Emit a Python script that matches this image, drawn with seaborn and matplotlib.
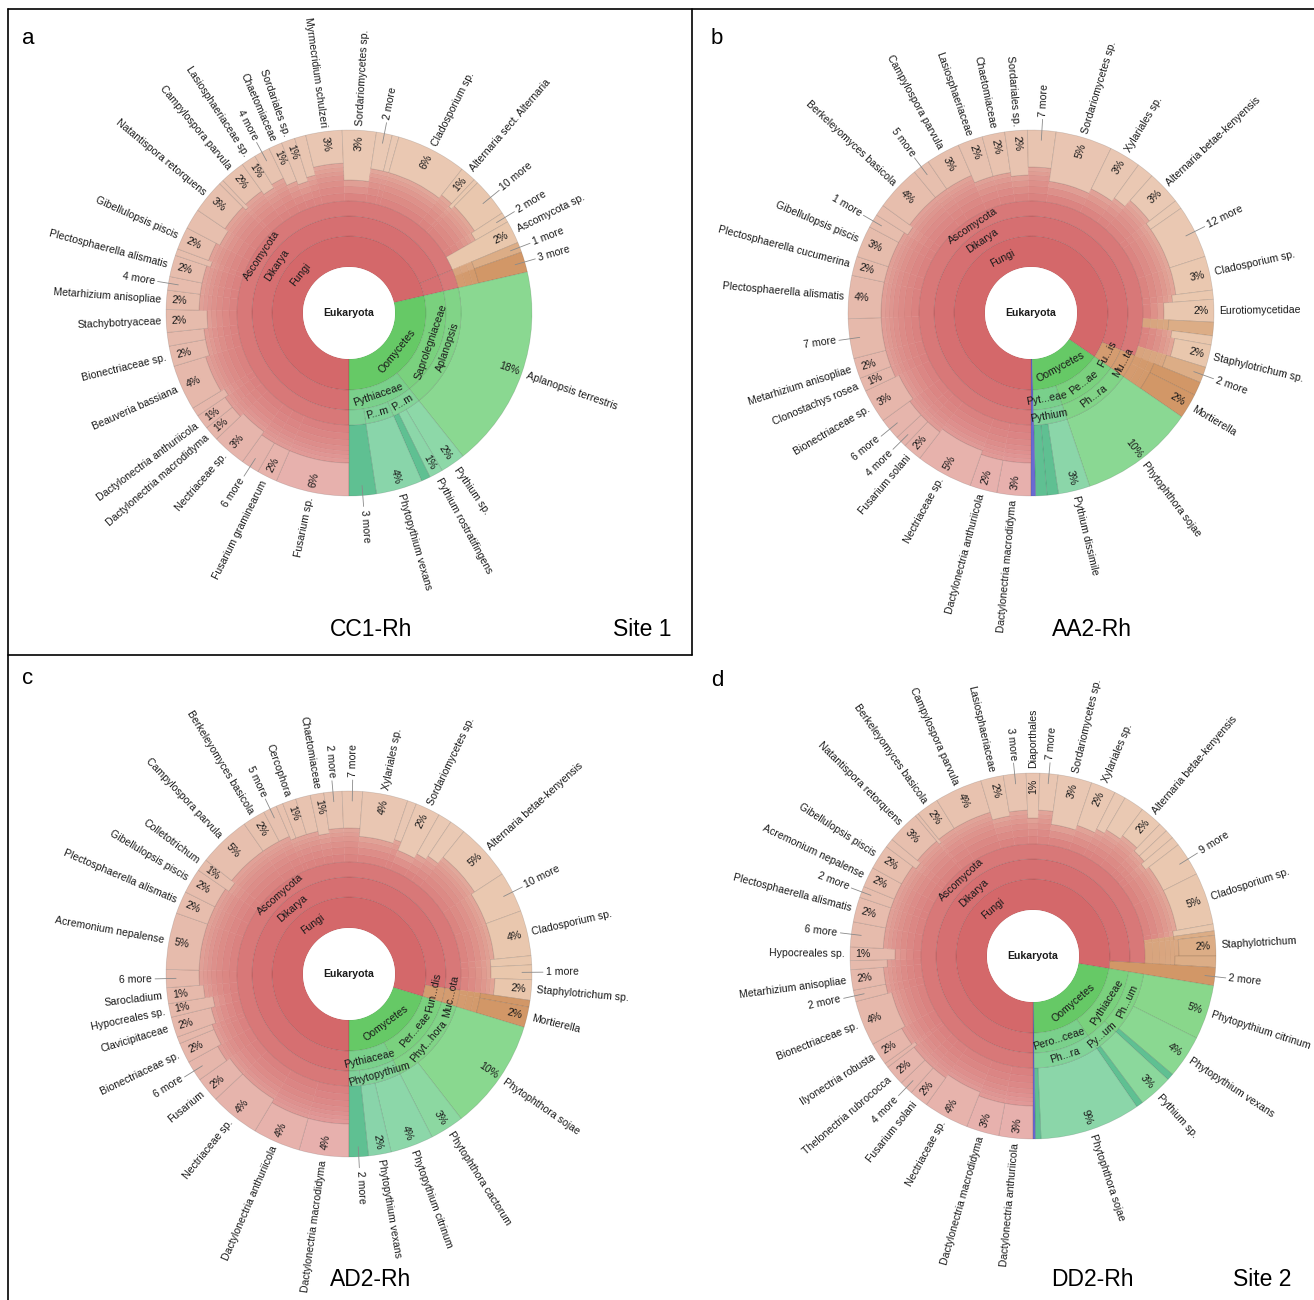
import numpy as np
import matplotlib
import matplotlib.pyplot as plt
import seaborn as sns
from matplotlib.patches import Wedge, Arc, Circle

matplotlib.use("agg")

# ---------------- panel a : CC1-Rh (Site 1)
a_names = ["Fusarium sp.", "Fusarium graminearum", "6 more", "Nectriaceae sp.",
           "Dactylonectria macrodidyma", "Dactylonectria anthuriicola", "", "Beauveria bassiana",
           "Bionectriaceae sp.", "", "Stachybotryaceae", "Metarhizium anisopliae", "4 more",
           "Plectosphaerella alismatis", "", "Gibellulopsis piscis", "", "Natantispora retorquens",
           "", "Campylospora parvula", "Lasiosphaeriaceae sp.", "4 more", "Chaetomiaceae",
           "Sordariales sp.", "", "Myrmecridium schulzeri", "Sordariomycetes sp.", "2 more", "",
           "Cladosporium sp.", "Alternaria sect. Alternaria", "", "10 more", "2 more",
           "Ascomycota sp.", "1 more", "3 more",
           "Aplanopsis terrestris", "Pythium sp.", "Pythium rostratifingens", "",
           "Phytopythium vexans", "3 more"]
a_sizes = [6.5, 1.8, 1.6, 3.0, 1.3, 1.3, 0.8, 4.0, 1.8, 1.2,
           2.0, 1.7, 1.2, 1.9, 0.6, 2.0, 1.8, 3.0, 0.4, 2.2,
           1.3, 1.4, 1.2, 1.2, 1.0, 3.2, 3.0, 1.4, 0.6, 6.2,
           1.4, 0.4, 3.4, 0.9, 2.0, 0.9, 1.8,
           17.9, 2.2, 1.2, 0.8, 4.1, 2.4]
a_pcts = ["6%", "2%", "", "3%", "1%", "1%", "", "4%", "2%", "",
          "2%", "2%", "", "2%", "", "2%", "", "3%", "", "2%",
          "1%", "", "1%", "1%", "", "3%", "3%", "", "", "6%",
          "1%", "", "", "", "2%", "", "",
          "18%", "2%", "1%", "", "4%", ""]
a_depths = [10, 10, 10, 9, 10, 10, 9, 10, 9, 9,
            8, 10, 10, 10, 9, 10, 9, 10, 9, 10,
            9, 10, 8, 7, 8, 10, 6, 9, 9, 9,
            10, 9, 10, 9, 3, 6, 6,
            3, 3, 3, 3, 3, 3]
a_groups = list("A" * 35) + ["C", "B", "O", "O", "O", "T", "O", "T"]
a_node_labels = ["Fungi", "Oomycetes", "Dikarya", "", "Saprolegniaceae", "Pythiaceae",
                 "Ascomycota", "", "Aplanopsis", "P...m", "P...m", ""]
a_node_levels = [1, 1, 2, 2, 2, 2, 3, 3, 3, 3, 3, 3]
a_node_first = [0, 37, 0, 35, 37, 38, 0, 35, 37, 38, 41, 42]
a_node_last = [36, 42, 34, 36, 37, 42, 34, 36, 37, 40, 41, 42]

# ---------------- panel b : AA2-Rh
b_names = ["Dactylonectria macrodidyma", "Dactylonectria anthuriicola", "Nectriaceae sp.",
           "Fusarium solani", "4 more", "6 more", "Bionectriaceae sp.", "Clonostachys rosea",
           "Metarhizium anisopliae", "7 more",
           "Plectosphaerella alismatis", "Plectosphaerella cucumerina", "Gibellulopsis piscis",
           "1 more", "", "Berkeleyomyces basicola", "5 more", "Campylospora parvula",
           "Lasiosphaeriaceae", "Chaetomiaceae",
           "Sordariales sp.", "7 more", "Sordariomycetes sp.", "Xylariales sp.", "",
           "Alternaria betae-kenyensis", "", "12 more", "Cladosporium sp.", "",
           "Eurotiomycetidae", "", "", "Staphylotrichum sp.", "2 more", "", "Mortierella",
           "Phytophthora sojae", "Pythium dissimile", "", "", ""]
b_sizes = [3.0, 2.4, 5.0, 1.7, 1.0, 1.9, 3.0, 1.2, 1.8, 3.5,
           3.8, 1.7, 2.8, 1.2, 1.0, 4.0, 1.5, 3.0, 2.2, 2.0,
           2.0, 2.5, 5.0, 2.8, 1.5, 3.0, 0.8, 4.7, 3.0, 0.8,
           2.0, 1.2, 0.8, 2.0, 1.4, 1.2, 2.2,
           10.2, 2.8, 1.0, 1.0, 0.4]
b_pcts = ["3%", "2%", "5%", "2%", "", "", "3%", "1%", "2%", "",
          "4%", "2%", "3%", "", "", "4%", "", "3%", "2%", "2%",
          "2%", "", "5%", "3%", "", "3%", "", "", "3%", "",
          "2%", "", "", "2%", "", "", "2%",
          "10%", "3%", "", "", ""]
b_depths = [10, 10, 9, 10, 10, 10, 9, 10, 10, 10,
            10, 10, 10, 10, 9, 10, 10, 10, 8, 8,
            7, 9, 6, 7, 8, 10, 9, 9, 9, 8,
            6, 7, 8, 9, 8, 6, 6,
            3, 3, 3, 3, 0]
b_groups = list("A" * 31) + ["C", "A", "A", "C", "B", "B", "O", "O", "T", "T", "V"]
b_node_labels = ["Fungi", "Oomycetes", "Dikarya", "Fu...is", "Pe...ae", "Pyt...eae",
                 "Ascomycota", "Mu...ta", "Ph...ra", "Pythium"]
b_node_levels = [1, 1, 2, 2, 2, 2, 3, 3, 3, 3]
b_node_first = [0, 37, 0, 35, 37, 38, 0, 35, 37, 38]
b_node_last = [36, 40, 34, 36, 37, 40, 34, 36, 37, 40]

# ---------------- panel c : AD2-Rh
c_names = ["Dactylonectria macrodidyma", "Dactylonectria anthuriicola", "Nectriaceae sp.",
           "Fusarium", "6 more", "Bionectriaceae sp.", "", "Clavicipitaceae", "Hypocreales sp.",
           "Sarocladium",
           "6 more", "Acremonium nepalense", "Plectosphaerella alismatis", "Gibellulopsis piscis",
           "Colletotrichum", "Campylospora parvula", "Berkeleyomyces basicola", "5 more", "",
           "Cercophora",
           "", "Chaetomiaceae", "2 more", "7 more", "Xylariales sp.", "", "Sordariomycetes sp.",
           "", "", "Alternaria betae-kenyensis",
           "10 more", "Cladosporium sp.", "", "1 more", "Staphylotrichum sp.", "", "Mortierella",
           "Phytophthora sojae", "Phytophthora cactorum", "Phytopythium citrinum",
           "Phytopythium vexans", "2 more"]
c_sizes = [4.4, 4.2, 4.4, 2.2, 1.8, 1.8, 0.6, 1.8, 1.2, 1.4,
           1.6, 5.0, 2.0, 2.2, 1.1, 4.6, 2.0, 1.2, 0.6, 1.2,
           1.3, 1.2, 1.6, 1.8, 4.0, 0.8, 2.2, 1.2, 1.4, 5.0,
           3.6, 4.0, 0.8, 1.3, 1.8, 0.6, 1.8,
           9.8, 3.0, 3.8, 2.0, 1.7]
c_pcts = ["4%", "4%", "4%", "2%", "", "2%", "", "2%", "1%", "1%",
          "", "5%", "2%", "2%", "1%", "5%", "2%", "", "", "1%",
          "", "1%", "", "", "4%", "", "2%", "", "", "5%",
          "", "4%", "", "", "2%", "", "2%",
          "10%", "3%", "4%", "2%", ""]
c_depths = [10, 10, 9, 9, 10, 9, 9, 8, 7, 9,
            10, 10, 10, 10, 9, 10, 10, 10, 9, 9,
            9, 8, 9, 9, 7, 8, 6, 7, 8, 10,
            9, 9, 8, 8, 9, 6, 6,
            3, 3, 3, 3, 3]
c_groups = list("A" * 35) + ["B", "B", "O", "O", "O", "O", "T"]
c_node_labels = ["Fungi", "Oomycetes", "Dikarya", "Fun...dis", "Per...eae", "Pythiaceae",
                 "Ascomycota", "Muc...ota", "Phyt...hora", "Phytopythium", ""]
c_node_levels = [1, 1, 2, 2, 2, 2, 3, 3, 3, 3, 3]
c_node_first = [0, 37, 0, 35, 37, 39, 0, 35, 37, 39, 41]
c_node_last = [36, 41, 34, 36, 38, 41, 34, 36, 38, 40, 41]

# ---------------- panel d : DD2-Rh (Site 2)
d_names = ["Dactylonectria anthuriicola", "Dactylonectria macrodidyma", "Nectriaceae sp.",
           "Fusarium solani", "4 more", "Thelonectria rubrococca", "", "Ilyonectria robusta",
           "Bionectriaceae sp.", "2 more",
           "Metarhizium anisopliae", "", "Hypocreales sp.", "6 more", "Plectosphaerella alismatis",
           "2 more", "Acremonium nepalense", "Gibellulopsis piscis", "", "Natantispora retorquens",
           "", "Berkeleyomyces basicola", "Campylospora parvula", "Lasiosphaeriaceae", "3 more",
           "Diaporthales", "7 more", "Sordariomycetes sp.", "Xylariales sp.", "",
           "", "Alternaria betae-kenyensis", "", "", "", "9 more", "Cladosporium sp.", "", "",
           "Staphylotrichum",
           "", "2 more",
           "Phytopythium citrinum", "Phytopythium vexans", "", "Pythium sp.", "",
           "Phytophthora sojae", "", ""]
d_sizes = [3.0, 2.9, 4.0, 1.7, 1.2, 1.8, 0.4, 2.0, 4.0, 1.0,
           1.8, 0.8, 1.2, 2.2, 2.2, 1.0, 1.8, 2.2, 0.8, 2.9,
           0.3, 2.0, 4.2, 2.0, 2.0, 1.2, 1.6, 3.0, 2.2, 1.0,
           1.8, 2.0, 0.8, 0.8, 0.8, 3.0, 4.6, 0.6, 0.4, 1.8,
           1.0, 1.6,
           4.8, 3.8, 0.6, 3.0, 0.6, 8.9, 0.5, 0.2]
d_pcts = ["3%", "3%", "4%", "2%", "", "2%", "", "2%", "4%", "",
          "2%", "", "1%", "", "2%", "", "2%", "2%", "", "3%",
          "", "2%", "4%", "2%", "", "1%", "", "3%", "2%", "",
          "", "2%", "", "", "", "", "5%", "", "", "2%",
          "", "",
          "5%", "4%", "", "3%", "", "9%", "", ""]
d_depths = [10, 10, 9, 10, 10, 10, 9, 10, 9, 10,
            10, 9, 7, 10, 10, 10, 10, 10, 9, 10,
            9, 10, 10, 8, 9, 7, 9, 6, 7, 8,
            9, 10, 9, 9, 8, 9, 9, 8, 8, 9,
            8, 1,
            3, 3, 3, 3, 3, 3, 3, 0]
d_groups = list("A" * 38) + ["C", "C", "C", "B", "O", "O", "T", "O", "T", "O", "T", "V"]
d_node_labels = ["Fungi", "Oomycetes", "Dikarya", "Pythiaceae", "Pero...ceae",
                 "Ascomycota", "Ph...um", "Py...um", "Ph...ra"]
d_node_levels = [1, 1, 2, 2, 2, 3, 3, 3, 3]
d_node_first = [0, 42, 0, 42, 47, 0, 42, 45, 47]
d_node_last = [41, 48, 40, 46, 48, 40, 44, 46, 48]

# ---------------- styling
sns.set_theme(style="white")
plt.rcParams["font.family"] = ["Liberation Sans", "DejaVu Sans"]

H = 1300
R = 183
radii = [46, 77, 97, 112, 120, 127, 133, 138, 142, 146, 150]
FS = 7.6
TXT = "#1a1a1a"
EDGE = (0, 0, 0, 0.14)

fungi_cmap = sns.blend_palette(["#e7afad", "#e6b8ab", "#e7c0ae", "#eac9b4", "#e9c6aa"], as_cmap=True)
oomy_cmap = sns.blend_palette(["#88d788", "#8ad892", "#8dd8a8", "#86d2ab"], as_cmap=True)
flat = {"C": "#dcad86", "B": "#d29767", "T": "#5fc092", "V": "#6a6ad2"}
ring_red = ["#d4686a", "#d66f71", "#d87878"]
ring_brown = "#d49c70"
green_l1 = "#66c966"


def mix(c1, c2, t):
    a = np.array(matplotlib.colors.to_rgb(c1))
    b = np.array(matplotlib.colors.to_rgb(c2))
    return tuple(a + (b - a) * t)


def ang(f):
    return -90.0 - 360.0 * f


def radial(ax, cx, cy, r, th, s, mode, **kw):
    a = np.deg2rad(th)
    x, y = cx + r * np.cos(a), cy + r * np.sin(a)
    rot = th % 360
    right = rot <= 90 or rot >= 270
    if not right:
        rot -= 180
    if mode == "out":
        ha = "left" if right else "right"
    else:
        ha = "center"
    ax.text(x, y, s, rotation=rot, rotation_mode="anchor", ha=ha, va="center",
            fontsize=FS, color=TXT, **kw)


def tangential(ax, cx, cy, r, th, s):
    a = np.deg2rad(th)
    rot = (th - 90) % 360
    if 90 < rot < 270:
        rot -= 180
    ax.text(cx + r * np.cos(a), cy + r * np.sin(a), s, rotation=rot, rotation_mode="anchor",
            ha="center", va="center", fontsize=FS, color=TXT)


def draw_panel(ax, cx, cy, names, sizes, pcts, depths, groups,
               node_labels, node_levels, node_first, node_last):
    cy = H - cy
    sizes = np.array(sizes, dtype=float)
    ends = np.cumsum(sizes) / sizes.sum()
    starts = ends - sizes / sizes.sum()
    fg = [i for i, g in enumerate(groups) if g in "ACB"]
    og = [i for i, g in enumerate(groups) if g in "OT"]
    f_end = ends[fg[-1]]
    o_start, o_end = starts[og[0]], ends[og[-1]]

    leaf_col = []
    for i, g in enumerate(groups):
        mid = (starts[i] + ends[i]) / 2
        if g == "A":
            leaf_col.append(fungi_cmap(mid / f_end)[:3])
        elif g == "O":
            leaf_col.append(oomy_cmap((mid - o_start) / (o_end - o_start))[:3])
        else:
            leaf_col.append(matplotlib.colors.to_rgb(flat[g]))

    # leaves and the thin deep rings under them
    for i in range(len(names)):
        t1, t2 = ang(ends[i]), ang(starts[i])
        g = groups[i]
        base = {"A": ring_red[2], "C": "#d7a27c", "B": ring_brown, "O": "#74cd7a",
                "T": "#5cbf8e", "V": "#6a6ad2"}[g]
        d = depths[i]
        for k in range(3, d):
            fr = 0.15 + 0.5 * (k - 3) / max(d - 3, 1)
            col = mix(base, leaf_col[i], fr)
            ax.add_patch(Wedge((cx, cy), radii[k + 1], t1, t2, width=radii[k + 1] - radii[k],
                               facecolor=col, edgecolor=col, lw=0.3))
            ax.add_patch(Arc((cx, cy), 2 * radii[k + 1], 2 * radii[k + 1], theta1=t1, theta2=t2,
                             color=(0, 0, 0, 0.09), lw=0.5))
        ax.add_patch(Wedge((cx, cy), R, t1, t2, width=R - radii[d],
                           facecolor=leaf_col[i], edgecolor=EDGE, lw=0.5))

    # named inner nodes
    for lab, lev, a0, a1 in zip(node_labels, node_levels, node_first, node_last):
        f0, f1 = starts[a0], ends[a1]
        g = groups[a0]
        if g in "AC":
            col = ring_red[lev - 1]
        elif g == "B":
            col = ring_brown
        elif lev == 1:
            col = green_l1
        else:
            tm = ((f0 + f1) / 2 - o_start) / (o_end - o_start)
            col = mix(oomy_cmap(tm)[:3], green_l1, 0.45 if lev == 2 else 0.25)
        ax.add_patch(Wedge((cx, cy), radii[lev], ang(f1), ang(f0), width=radii[lev] - radii[lev - 1],
                           facecolor=col, edgecolor=EDGE, lw=0.5))
        if lab:
            tangential(ax, cx, cy, (radii[lev] + radii[lev - 1]) / 2, ang((f0 + f1) / 2), lab)

    ax.add_patch(Circle((cx, cy), radii[0], facecolor="white", edgecolor="none"))
    ax.text(cx, cy, "Eukaryota", ha="center", va="center", fontsize=FS, fontweight="bold", color=TXT)

    # labels
    for i, name in enumerate(names):
        th = ang((starts[i] + ends[i]) / 2)
        a = np.deg2rad(th)
        if name.endswith(" more"):
            ax.plot([cx + (R - 10) * np.cos(a), cx + (R + 11) * np.cos(a)],
                    [cy + (R - 10) * np.sin(a), cy + (R + 11) * np.sin(a)],
                    color="#8a8a8a", lw=0.6)
            radial(ax, cx, cy, R + 14, th, name, "out")
        elif name:
            radial(ax, cx, cy, R + 5, th, name, "out")
        if pcts[i]:
            radial(ax, cx, cy, R - 13, th, pcts[i], "mid")


fig = plt.figure(figsize=(13.14, 13.0), dpi=100)
ax = fig.add_axes([0, 0, 1, 1])
ax.set_xlim(0, 1314)
ax.set_ylim(0, H)
ax.set_aspect("equal")
ax.axis("off")

draw_panel(ax, 349, 313, a_names, a_sizes, a_pcts, a_depths, a_groups,
           a_node_labels, a_node_levels, a_node_first, a_node_last)
draw_panel(ax, 1031, 313, b_names, b_sizes, b_pcts, b_depths, b_groups,
           b_node_labels, b_node_levels, b_node_first, b_node_last)
draw_panel(ax, 349, 974, c_names, c_sizes, c_pcts, c_depths, c_groups,
           c_node_labels, c_node_levels, c_node_first, c_node_last)
draw_panel(ax, 1033, 956, d_names, d_sizes, d_pcts, d_depths, d_groups,
           d_node_labels, d_node_levels, d_node_first, d_node_last)

# panel letters, sample names, sites
for s, x, y in [("a", 28, 38), ("b", 717, 38), ("c", 28, 678), ("d", 717, 680)]:
    ax.text(x, H - y, s, ha="center", va="center", fontsize=16, color="black")
for s, x, y in [("CC1-Rh", 371, 629), ("Site 1", 642, 629), ("AA2-Rh", 1092, 629),
                ("AD2-Rh", 371, 1279), ("DD2-Rh", 1092, 1279), ("Site 2", 1262, 1279)]:
    ax.text(x, H - y, s, ha="center", va="center", fontsize=16.5, color="black")

# frame lines
lk = dict(color="black", lw=1.2)
ax.plot([8, 1314], [H - 9, H - 9], **lk)
ax.plot([8, 8], [H - 9, 0], **lk)
ax.plot([692, 692], [H - 9, H - 655], **lk)
ax.plot([8, 692], [H - 655, H - 655], **lk)

fig.savefig("out.png", dpi=100, facecolor="white")
